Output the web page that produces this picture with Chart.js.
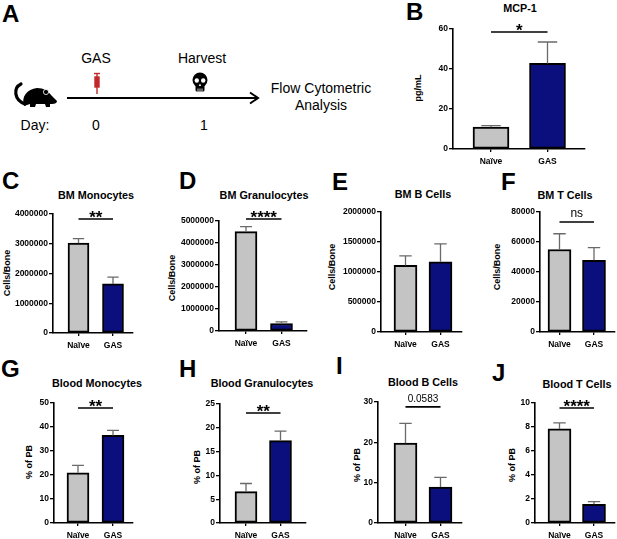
<!DOCTYPE html>
<html>
<head>
<meta charset="utf-8">
<script src="https://cdn.jsdelivr.net/npm/chart.js@4"></script>
<style>
  body { margin: 0; background: #fff; width: 617px; height: 539px; position: relative; overflow: hidden;
         font-family: "Liberation Sans", Arial, sans-serif; color: #000; }
  .t { position: absolute; white-space: nowrap; line-height: 1; }
  .c { transform: translate(-50%, -50%); }
  .letter { font-size: 24px; font-weight: bold; }
  .title { font-size: 10.8px; font-weight: bold; }
  .yt { font-size: 9px; font-weight: bold; transform: translate(-50%, -50%) rotate(-90deg); }
  .sch { font-size: 14px; }
  canvas { position: absolute; }
  svg { position: absolute; left: 0; top: 0; }
</style>
</head>
<body>

<script>
// ---- data ----
const groups = ['Naïve', 'GAS'];

// B: MCP-1 (pg/mL)
const mcp1Mean = [10.9, 42.8];
const mcp1Sem = [0.8, 10.7];
const mcp1Sig = ['*', 58.5];

// C-F: bone marrow (cells/bone)
const bmMonoMean = [3020000, 1650000];
const bmMonoSem = [150000, 225000];
const bmMonoSig = ['**', 3830000];

const bmGranMean = [4520000, 340000];
const bmGranSem = [220000, 75000];
const bmGranSig = ['****', 5090000];

const bmBMean = [1110000, 1170000];
const bmBSem = [160000, 300000];

const bmTMean = [55000, 47800];
const bmTSem = [10500, 8500];
const bmTSig = ['ns', 73300];

// G-J: blood (% of PB)
const bldMonoMean = [20.9, 36.5];
const bldMonoSem = [3.1, 2.1];
const bldMonoSig = ['**', 47.9];

const bldGranMean = [6.6, 17.3];
const bldGranSem = [1.7, 2.0];
const bldGranSig = ['**', 23.1];

const bldBMean = [19.8, 8.9];
const bldBSem = [4.9, 2.4];
const bldBSig = ['0.0583', 28.8];

const bldTMean = [7.84, 1.56];
const bldTSem = [0.5, 0.22];
const bldTSig = ['****', 9.58];

// y axis ranges
const yMax = { B: 60, C: 4000000, D: 5000000, E: 2000000, F: 80000, G: 50, H: 25, I: 30, J: 10 };
const yStep = { B: 20, C: 1000000, D: 1000000, E: 500000, F: 20000, G: 10, H: 5, I: 10, J: 2 };
</script>

<svg width="617" height="539">
  <!-- mouse -->
  <path d="M25,104 C14,100 13,88 21,84" fill="none" stroke="#000" stroke-width="3.2" stroke-linecap="round"/>
  <path d="M24,106 C21,97 27,89 37,88 C44,88 48,91 51,95 L57,101 C57,103 55,104 52,104 L50,104 L50,107 L46,107
           L45,104 L36,104 L35,107 L30,107 L30,104 Z" fill="#000"/>
  <circle cx="46" cy="92" r="2.6" fill="#000" stroke="#fff" stroke-width="0.8"/>
  <!-- syringe -->
  <g stroke="#c0282d" stroke-width="1.4" fill="none">
    <line x1="94" y1="73.5" x2="100" y2="73.5"/>
    <line x1="97" y1="73.5" x2="97" y2="77"/>
    <rect x="95" y="77" width="4" height="10" fill="#c0282d"/>
    <line x1="97" y1="87" x2="97" y2="94"/>
  </g>
  <!-- skull -->
  <g>
    <circle cx="200" cy="80" r="7.5" fill="#000"/>
    <rect x="195.5" y="83" width="9" height="8.5" rx="1.5" fill="#000"/>
    <circle cx="196.8" cy="80.5" r="2.2" fill="#fff"/>
    <circle cx="203.2" cy="80.5" r="2.2" fill="#fff"/>
    <path d="M200,83.5 L198.8,86 L201.2,86 Z" fill="#fff"/>
    <line x1="198" y1="88.5" x2="198" y2="91.5" stroke="#fff" stroke-width="0.8"/>
    <line x1="200" y1="88.5" x2="200" y2="91.5" stroke="#fff" stroke-width="0.8"/>
    <line x1="202" y1="88.5" x2="202" y2="91.5" stroke="#fff" stroke-width="0.8"/>
  </g>
  <!-- timeline arrow -->
  <line x1="67" y1="98" x2="257" y2="98" stroke="#000" stroke-width="2"/>
  <polyline points="250,92.5 258,98 250,103.5" fill="none" stroke="#000" stroke-width="2"/>
</svg>

<div class="t letter" style="left:2px;top:2px">A</div>
<div class="t sch c" style="left:96px;top:58px">GAS</div>
<div class="t sch c" style="left:202px;top:58px">Harvest</div>
<div class="t sch c" style="left:35px;top:125px">Day:</div>
<div class="t sch c" style="left:96px;top:125px">0</div>
<div class="t sch c" style="left:204px;top:125px">1</div>
<div class="t sch c" style="left:321px;top:88px">Flow Cytometric</div>
<div class="t sch c" style="left:321px;top:105px">Analysis</div>

<div class="t letter" style="left:406px;top:0px">B</div>
<div class="t letter" style="left:2px;top:169px">C</div>
<div class="t letter" style="left:179px;top:169px">D</div>
<div class="t letter" style="left:332px;top:170px">E</div>
<div class="t letter" style="left:501px;top:170px">F</div>
<div class="t letter" style="left:1px;top:357px">G</div>
<div class="t letter" style="left:179px;top:357px">H</div>
<div class="t letter" style="left:336px;top:354px">I</div>
<div class="t letter" style="left:492px;top:361px">J</div>

<div class="t title c" style="left:520px;top:8px">MCP-1</div>
<div class="t title c" style="left:96px;top:195px">BM Monocytes</div>
<div class="t title c" style="left:264px;top:195px">BM Granulocytes</div>
<div class="t title c" style="left:423px;top:194px">BM B Cells</div>
<div class="t title c" style="left:565px;top:195px">BM T Cells</div>
<div class="t title c" style="left:97px;top:383px">Blood Monocytes</div>
<div class="t title c" style="left:262px;top:383px">Blood Granulocytes</div>
<div class="t title c" style="left:423px;top:382px">Blood B Cells</div>
<div class="t title c" style="left:577px;top:384px">Blood T Cells</div>

<div class="t yt" style="left:418px;top:88px">pg/mL</div>
<div class="t yt" style="left:7px;top:273px">Cells/Bone</div>
<div class="t yt" style="left:172px;top:278px">Cells/Bone</div>
<div class="t yt" style="left:332px;top:267px">Cells/Bone</div>
<div class="t yt" style="left:497px;top:267px">Cells/Bone</div>
<div class="t yt" style="left:29px;top:462px">% of PB</div>
<div class="t yt" style="left:197px;top:467px">% of PB</div>
<div class="t yt" style="left:357px;top:465px">% of PB</div>
<div class="t yt" style="left:512px;top:465px">% of PB</div>

<script>
const GREY = '#c4c4c4';
const NAVY = '#0a0f7d';
const tickFont = { family: 'Liberation Sans', size: 8.5, weight: 'bold' };

// placement of each small chart on the page (axis origin, ends, bar centres)
const panels = [
  { key: 'B', mean: mcp1Mean, sem: mcp1Sem, sig: mcp1Sig, axisX: 453, axisEnd: 585, yTop: 29, y0: 149, c1: 491, c2: 547.5, barW: 36 },
  { key: 'C', mean: bmMonoMean, sem: bmMonoSem, sig: bmMonoSig, axisX: 53, axisEnd: 133, yTop: 214, y0: 333, c1: 78.5, c2: 113, barW: 21 },
  { key: 'D', mean: bmGranMean, sem: bmGranSem, sig: bmGranSig, axisX: 219, axisEnd: 307, yTop: 221, y0: 331, c1: 246, c2: 281.5, barW: 22 },
  { key: 'E', mean: bmBMean, sem: bmBSem, sig: null, axisX: 381, axisEnd: 462, yTop: 212, y0: 332, c1: 405.5, c2: 440.5, barW: 23 },
  { key: 'F', mean: bmTMean, sem: bmTSem, sig: bmTSig, axisX: 540, axisEnd: 615, yTop: 212, y0: 332, c1: 559.5, c2: 594, barW: 23 },
  { key: 'G', mean: bldMonoMean, sem: bldMonoSem, sig: bldMonoSig, axisX: 54, axisEnd: 133, yTop: 403, y0: 523, c1: 78, c2: 113, barW: 22 },
  { key: 'H', mean: bldGranMean, sem: bldGranSem, sig: bldGranSig, axisX: 220, axisEnd: 306, yTop: 404, y0: 523, c1: 246, c2: 280.5, barW: 22 },
  { key: 'I', mean: bldBMean, sem: bldBSem, sig: bldBSig, axisX: 378, axisEnd: 462, yTop: 402, y0: 523, c1: 405.5, c2: 440.5, barW: 23 },
  { key: 'J', mean: bldTMean, sem: bldTSem, sig: bldTSig, axisX: 535, axisEnd: 615, yTop: 403, y0: 523, c1: 559.5, c2: 594, barW: 23 }
];

// draws the upper error bars and the significance bracket
const extrasPlugin = {
  id: 'extras',
  afterDatasetsDraw(chart, args, opts) {
    const p = opts.panel;
    const { ctx } = chart;
    const xs = chart.scales.x, ys = chart.scales.y;
    const meta = chart.getDatasetMeta(0);
    ctx.save();
    ctx.strokeStyle = '#6a6a6a';
    ctx.lineWidth = 1.3;
    meta.data.forEach((bar, i) => {
      const yE = ys.getPixelForValue(p.mean[i] + p.sem[i]);
      const half = p.barW * 0.27;
      ctx.beginPath();
      ctx.moveTo(bar.x, bar.y);
      ctx.lineTo(bar.x, yE);
      ctx.moveTo(bar.x - half, yE);
      ctx.lineTo(bar.x + half, yE);
      ctx.stroke();
    });
    if (p.sig) {
      const y = ys.getPixelForValue(p.sig[1]);
      const x1 = xs.getPixelForValue(1), x2 = xs.getPixelForValue(2);
      ctx.strokeStyle = '#000';
      ctx.lineWidth = 1.6;
      ctx.beginPath();
      ctx.moveTo(x1, y);
      ctx.lineTo(x2, y);
      ctx.stroke();
      ctx.fillStyle = '#000';
      ctx.textAlign = 'center';
      ctx.textBaseline = 'alphabetic';
      if (p.sig[0].startsWith('*')) {
        ctx.font = 'bold 17px "Liberation Sans"';
        ctx.fillText(p.sig[0], (x1 + x2) / 2, y + 4);
      } else {
        ctx.font = (p.sig[0] === 'ns' ? '12px' : '10px') + ' "Liberation Sans"';
        ctx.fillText(p.sig[0], (x1 + x2) / 2, y - 5);
      }
    }
    ctx.restore();
  }
};

panels.forEach(p => {
  const padTop = 24, xH = 22, yW = 50;
  const w = yW + (p.axisEnd - p.axisX) + 1;
  const h = padTop + (p.y0 - p.yTop) + xH;
  const cv = document.createElement('canvas');
  cv.width = w;
  cv.height = h;
  cv.style.left = (p.axisX - yW) + 'px';
  cv.style.top = (p.yTop - padTop) + 'px';
  document.body.appendChild(cv);

  const unit = p.c2 - p.c1;
  const xMin = 1 - (p.c1 - p.axisX) / unit;
  const xMax = 2 + (p.axisEnd - p.c2) / unit;

  new Chart(cv, {
    type: 'bar',
    data: {
      datasets: [{
        data: p.mean.map((v, i) => ({ x: i + 1, y: v })),
        backgroundColor: [GREY, NAVY],
        borderColor: '#000',
        borderWidth: 2,
        borderSkipped: false,
        barThickness: p.barW
      }]
    },
    options: {
      responsive: false,
      animation: false,
      layout: { padding: { top: padTop, right: 1 } },
      plugins: { legend: { display: false }, tooltip: { enabled: false }, extras: { panel: p } },
      scales: {
        x: {
          type: 'linear', min: xMin, max: xMax, offset: false,
          afterBuildTicks: s => { s.ticks = [{ value: 1 }, { value: 2 }]; },
          afterFit: s => { s.height = xH; s.paddingLeft = 0; s.paddingRight = 0; },
          ticks: { callback: v => groups[v - 1], font: tickFont, color: '#000', padding: 5, maxRotation: 0, autoSkip: false },
          grid: { offset: false, drawOnChartArea: false, tickLength: 3, color: '#000', lineWidth: 1.3 },
          border: { color: '#000', width: 1.6 }
        },
        y: {
          min: 0, max: yMax[p.key],
          afterFit: s => { s.width = yW; s.paddingTop = 0; s.paddingBottom = 0; },
          ticks: { stepSize: yStep[p.key], callback: v => String(v), font: tickFont, color: '#000', padding: 1 },
          grid: { drawOnChartArea: false, tickLength: 4, color: '#000', lineWidth: 1.3 },
          border: { color: '#000', width: 1.6 }
        }
      }
    },
    plugins: [extrasPlugin]
  });
});
</script>
</body>
</html>
